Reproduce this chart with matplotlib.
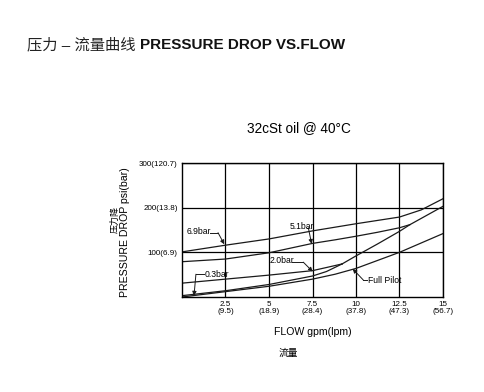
import matplotlib
matplotlib.use("Agg")
import matplotlib.pyplot as plt

plt.rcParams['font.family'] = ['Liberation Sans', 'Noto Sans CJK SC']

# pressure drop curves, psi vs gpm
x_69 = [0, 2.5, 5, 7.5, 10, 12.5, 13.75, 15]
y_69 = [101, 116, 130, 148, 164, 179, 195, 220]

x_51 = [0, 2.5, 5, 7.5, 8.8, 10, 11.25, 12.5, 13.1]
y_51 = [79, 85, 99, 120, 128, 136, 145, 155, 162]

x_20 = [0, 2.5, 5, 7.5, 8.3, 9.2]
y_20 = [31, 40, 49, 59, 66, 74]

x_03 = [0, 2.5, 5, 7.5, 8.3, 9.2]
y_03 = [3, 14, 28, 47, 57, 74]

x_open = [9.2, 10, 11.25, 12.5, 13.1, 15]
y_open = [74, 92, 119, 147, 162, 203]

x_fp = [0, 2.5, 5, 7.5, 8.8, 10, 12.5, 15]
y_fp = [0, 12, 24, 40, 51, 64, 100, 142]

x_ticks = [2.5, 5, 7.5, 10, 12.5, 15]
x_ticklabels = ['2.5\n(9.5)', '5\n(18.9)', '7.5\n(28.4)', '10\n(37.8)', '12.5\n(47.3)', '15\n(56.7)']
y_ticks = [100, 200, 300]
y_ticklabels = ['100(6.9)', '200(13.8)', '300(120.7)']

fig = plt.figure(figsize=(4.85, 3.92), dpi=100)
ax = fig.add_axes([182/485, 1-297/392, 261/485, 134/392])

lc = '#1a1a1a'
for xs, ys in [(x_69, y_69), (x_51, y_51), (x_20, y_20), (x_03, y_03),
               (x_open, y_open), (x_fp, y_fp)]:
    ax.plot(xs, ys, color=lc, lw=0.9)

ax.set_xlim(0, 15)
ax.set_ylim(0, 300)
ax.set_xticks(x_ticks)
ax.set_xticklabels(x_ticklabels, fontsize=5.8, linespacing=0.95)
ax.set_yticks(y_ticks)
ax.set_yticklabels(y_ticklabels, fontsize=5.8)
ax.tick_params(length=0, pad=3)
ax.grid(True, color='black', lw=0.9)
for s in ax.spines.values():
    s.set_linewidth(1.0)

# curve labels with leaders
def label(txt, pos, knee, tip, ha='left'):
    ax.text(pos[0], pos[1], txt, fontsize=6.2, ha=ha, va='center', zorder=4)
    ax.plot([pos[2], knee[0]], [knee[1], knee[1]], color=lc, lw=0.7)
    ax.annotate('', xy=tip, xytext=knee,
                arrowprops=dict(arrowstyle='-|>', color=lc, lw=0.7,
                                mutation_scale=6, shrinkA=0, shrinkB=0))

label('6.9bar', (0.29, 146, 1.62), (2.07, 144), (2.43, 118))
label('5.1bar', (6.21, 157, 7.18), (7.26, 155), (7.45, 119))
label('2.0bar', (5.06, 81, 6.32), (6.97, 78), (7.51, 57))
label('0.3bar', (1.32, 51, 1.28), (0.80, 51), (0.69, 3))
label('Full Pilot', (10.69, 38, 10.65), (10.42, 38), (9.81, 63))

fig.text(27/485, 1-45/392, '压力 – 流量曲线', fontsize=11, va='center', color='#222222')
fig.text(140/485, 1-45/392, 'PRESSURE DROP VS.FLOW', fontsize=11, va='center',
         fontweight='bold', color='#111111')
fig.text(247/485, 1-128/392, '32cSt oil @ 40°C', fontsize=9.8, va='center')
fig.text(313/485, 1-332/392, 'FLOW gpm(lpm)', fontsize=7.6, ha='center', va='center')
fig.text(288/485, 1-353/392, '流量', fontsize=7, ha='center', va='center')
fig.text(125/485, 1-232/392, 'PRESSURE DROP psi(bar)', fontsize=7.6, rotation=90,
         ha='center', va='center')
fig.text(115/485, 1-220/392, '压力降', fontsize=6.5, rotation=90, ha='center', va='center')

fig.savefig('out.png', dpi=100)
